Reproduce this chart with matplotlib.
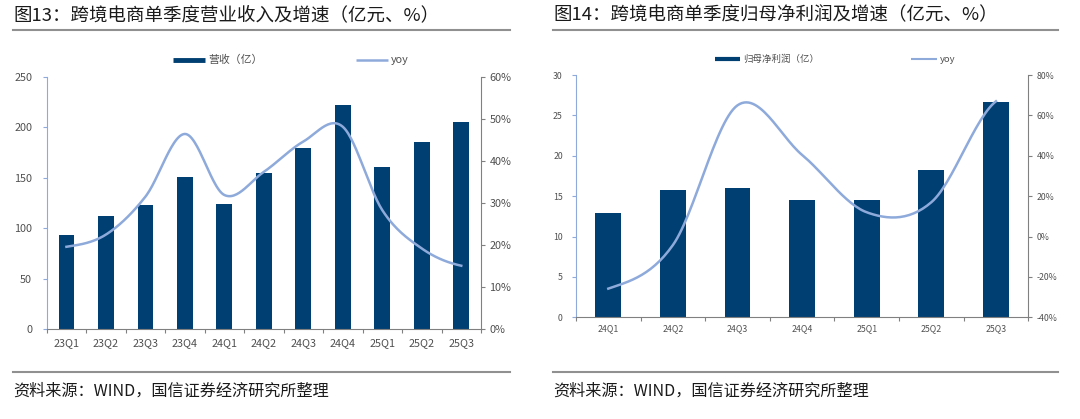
import numpy as np
import matplotlib
matplotlib.use("Agg")
import matplotlib.pyplot as plt
from matplotlib.lines import Line2D

plt.rcParams['font.family'] = ['Noto Sans CJK SC', 'DejaVu Sans']

# left chart data
quarters_l = ['23Q1', '23Q2', '23Q3', '23Q4', '24Q1', '24Q2', '24Q3', '24Q4', '25Q1', '25Q2', '25Q3']
revenue = [93.5, 112, 122.7, 150.4, 123.7, 154.4, 179, 222, 160.3, 185.4, 205.5]
revenue_yoy = [19.6, 22.5, 31.5, 46.4, 31.9, 37.4, 44.6, 48.1, 28.3, 19.2, 15.1]

# right chart data
quarters_r = ['24Q1', '24Q2', '24Q3', '24Q4', '25Q1', '25Q2', '25Q3']
profit = [12.96, 15.77, 16.0, 14.5, 14.5, 18.2, 26.7]
profit_yoy = [-25.8, -4.2, 65.0, 40.4, 12.0, 17.0, 67.0]

BAR = '#003f72'
LINE = '#8eaadb'
TXT = '#505050'
W, H = 1080, 419


def smooth(x, y, n=30):
    # excel-like smoothed line (catmull-rom)
    x = np.asarray(x, float)
    y = np.asarray(y, float)
    xs, ys = [], []
    for i in range(len(x) - 1):
        p1, p2 = y[i], y[i + 1]
        p0 = y[i - 1] if i > 0 else y[i]
        p3 = y[i + 2] if i + 2 < len(y) else y[i + 1]
        m1 = (p2 - p0) / 2
        m2 = (p3 - p1) / 2
        t = np.linspace(0, 1, n)
        h00 = 2 * t**3 - 3 * t**2 + 1
        h10 = t**3 - 2 * t**2 + t
        h01 = -2 * t**3 + 3 * t**2
        h11 = t**3 - t**2
        xs.append(x[i] + t * (x[i + 1] - x[i]))
        ys.append(h00 * p1 + h10 * m1 + h01 * p2 + h11 * m2)
    return np.concatenate(xs), np.concatenate(ys)


def px_rect(l, t, r, b):
    return [l / W, 1 - b / H, (r - l) / W, (b - t) / H]


def legend_item(x0, x1, y, color, lw, label, fs):
    fig.add_artist(Line2D([x0 / W, x1 / W], [1 - y / H, 1 - y / H], color=color, lw=lw,
                          solid_capstyle='butt'))
    fig.text((x1 + 3) / W, 1 - y / H, label, fontsize=fs, color=TXT, va='center', ha='left')


def draw(rect, cats, bars, yoy, ymax, ystep, rmin, rmax, rstep, fs, xpad, lpad, rpad):
    ax = fig.add_axes(rect)
    x = np.arange(len(cats))
    ax.bar(x, bars, width=0.4, color=BAR, zorder=2)
    ax.set_xlim(-0.5, len(cats) - 0.5)
    ax.set_ylim(0, ymax)
    ax.set_yticks(np.arange(0, ymax + 0.1, ystep))
    ax.set_xticks(np.arange(-0.5, len(cats), 1.0))
    ax.set_xticklabels([])
    ax.set_xticks(x, minor=True)
    ax.set_xticklabels(cats, minor=True)
    ax.tick_params(axis='x', which='minor', length=0, pad=xpad, labelsize=fs, colors=TXT)
    ax.tick_params(axis='x', which='major', length=3, color='#808080')
    ax.tick_params(axis='y', length=3, color=LINE, labelsize=fs, colors=TXT, pad=lpad)
    for s in ['top', 'right']:
        ax.spines[s].set_visible(False)
    ax.spines['left'].set_color(LINE)
    ax.spines['bottom'].set_color('#808080')

    ax2 = ax.twinx()
    sx, sy = smooth(x, yoy)
    ax2.plot(sx, sy, color=LINE, lw=1.8, zorder=3)
    ax2.set_ylim(rmin, rmax)
    rt = np.arange(rmin, rmax + 0.1, rstep)
    ax2.set_yticks(rt)
    ax2.set_yticklabels([f'{int(v)}%' for v in rt])
    ax2.tick_params(axis='y', length=3, color='#808080', labelsize=fs, colors=TXT, pad=rpad)
    for s in ['top', 'left', 'bottom']:
        ax2.spines[s].set_visible(False)
    ax2.spines['right'].set_color('#808080')
    return ax


fig = plt.figure(figsize=(W / 100, H / 100), dpi=100)

draw(px_rect(46.7, 76.7, 481, 329.3), quarters_l, revenue, revenue_yoy,
     250, 50, 0, 60, 10, 7.8, 6, 7.5, 3)
draw(px_rect(576, 75, 1028.3, 317.3), quarters_r, profit, profit_yoy,
     30, 5, -40, 80, 20, 6.3, 5, 6.5, 3)

legend_item(173, 205, 60, BAR, 3.5, '营收（亿）', 7.8)
legend_item(356, 388, 60, LINE, 1.8, 'yoy', 7.8)
legend_item(715, 740, 59, BAR, 3.0, '归母净利润（亿）', 6.8)
legend_item(911, 937, 59, LINE, 1.5, 'yoy', 6.8)

fig.text(13 / W, 1 - 15 / H, '图13：跨境电商单季度营业收入及增速（亿元、%）', fontsize=13.3,
         color='#1a1a1a', va='center', ha='left')
fig.text(553 / W, 1 - 15 / H, '图14：跨境电商单季度归母净利润及增速（亿元、%）', fontsize=13.3,
         color='#1a1a1a', va='center', ha='left')
for y in (30, 372):
    fig.add_artist(Line2D([13 / W, 510 / W], [1 - y / H, 1 - y / H], color='#909090', lw=1.5))
    fig.add_artist(Line2D([553 / W, 1058 / W], [1 - y / H, 1 - y / H], color='#909090', lw=1.5))
fig.text(13 / W, 1 - 391 / H, '资料来源：WIND，国信证券经济研究所整理', fontsize=11.6,
         color='#1a1a1a', va='center', ha='left')
fig.text(553 / W, 1 - 391 / H, '资料来源：WIND，国信证券经济研究所整理', fontsize=11.6,
         color='#1a1a1a', va='center', ha='left')

plt.savefig('out.png', dpi=100)
